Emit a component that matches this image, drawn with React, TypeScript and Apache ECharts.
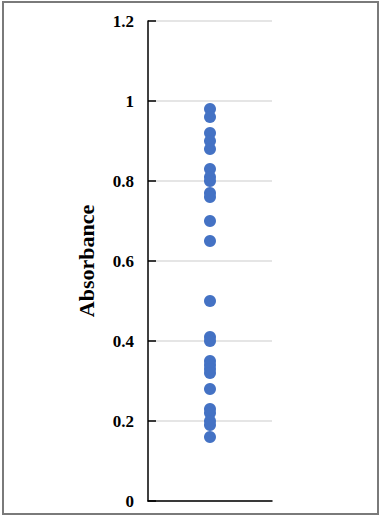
import React, { useEffect, useRef } from "react";
import * as echarts from "echarts";

const yTicks = [0, 0.2, 0.4, 0.6, 0.8, 1, 1.2];
const absorbance = [
  0.98, 0.96, 0.92, 0.9, 0.88, 0.83, 0.81, 0.8, 0.77, 0.76, 0.7, 0.65,
  0.5, 0.41, 0.4, 0.35, 0.34, 0.33, 0.32, 0.28, 0.23, 0.22, 0.2, 0.19, 0.16,
];
const xPosition = 1;
const yAxisName = "Absorbance";

const serif = '"Liberation Serif", "Times New Roman", serif';

export default function App() {
  const ref = useRef<HTMLDivElement>(null);
  useEffect(() => {
    if (!ref.current) return;
    const chart = echarts.init(ref.current, null, { renderer: "svg" });
    chart.setOption({
      animation: false,
      backgroundColor: "#ffffff",
      grid: { left: 148, top: 21, right: 111, bottom: 17, containLabel: false },
      graphic: [
        {
          type: "rect",
          shape: { x: 3, y: 2, width: 375, height: 512 },
          style: { fill: "none", stroke: "#7a7a7a", lineWidth: 2 },
          silent: true,
        },
      ],
      xAxis: {
        type: "value",
        min: 0,
        max: 2,
        axisLine: { show: true, onZero: false, lineStyle: { color: "#000", width: 1.5 } },
        axisTick: { show: false },
        axisLabel: { show: false },
        splitLine: { show: false },
      },
      yAxis: {
        type: "value",
        min: yTicks[0],
        max: yTicks[yTicks.length - 1],
        interval: 0.2,
        name: yAxisName,
        nameLocation: "middle",
        nameRotate: 90,
        nameGap: 51,
        nameTextStyle: { fontFamily: serif, fontWeight: "bold", fontSize: 22, color: "#000" },
        axisLine: { show: true, lineStyle: { color: "#000", width: 1.5 } },
        axisTick: { show: true, inside: true, length: 8, lineStyle: { color: "#000", width: 1.5 } },
        axisLabel: {
          fontFamily: serif,
          fontWeight: "bold",
          fontSize: 17,
          color: "#000",
          margin: 14,
          formatter: (v: number) => String(Math.round(v * 10) / 10),
        },
        splitLine: { show: true, lineStyle: { color: "#dcdcdc", width: 1.5 } },
      },
      series: [
        {
          type: "scatter",
          data: absorbance.map((v) => [xPosition, v]),
          symbol: "circle",
          symbolSize: 12,
          itemStyle: { color: "#4472C4", opacity: 1 },
        },
      ],
    });
    return () => chart.dispose();
  }, []);
  return (
    <div
      ref={ref}
      style={{ position: "fixed", left: 0, top: 0, width: 383, height: 518 }}
    />
  );
}
